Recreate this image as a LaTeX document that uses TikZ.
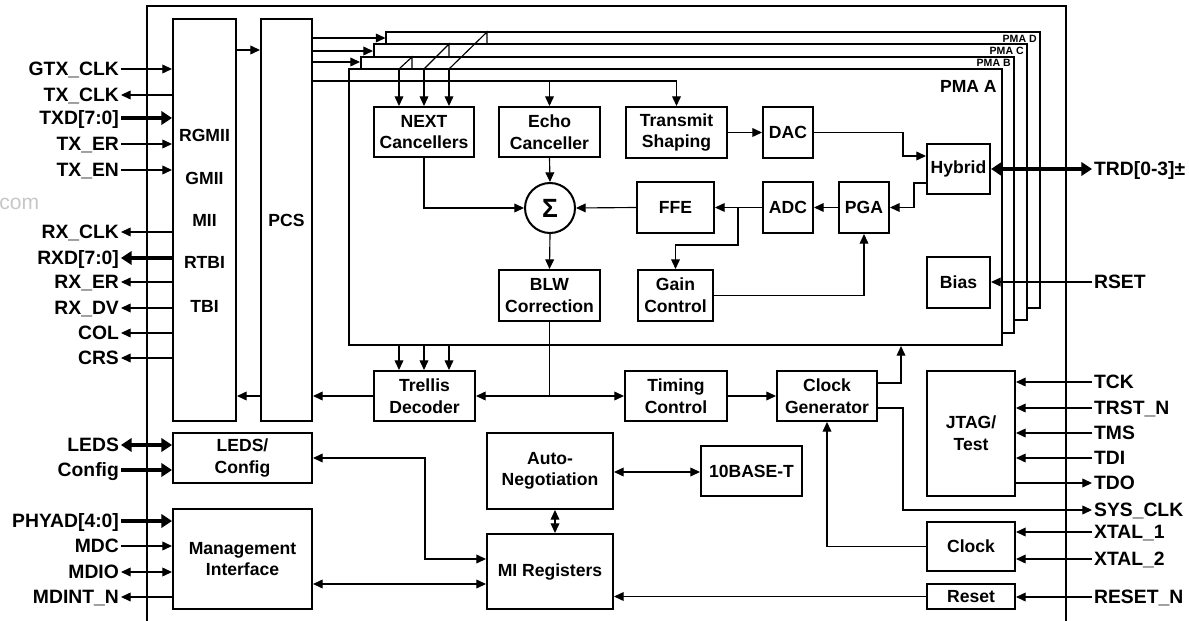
\documentclass[tikz,border=0pt]{standalone}
\usepackage{fontspec}
\setmainfont{Liberation Sans}
\usetikzlibrary{arrows.meta,calc}
\newcommand\bx[7][]{\node[box,#1, minimum width={(#5-#3)*0.02cm}, minimum height={(#6-#4)*0.02cm}] (#2) at ({(#3+#5)/2},{(#4+#6)/2}) {#7};}
\begin{document}
\begin{tikzpicture}[x=0.02cm,y=-0.02cm,
 box/.style={draw, line width=1.15pt, fill=white, font=\fontsize{10}{12.3}\selectfont\bfseries, align=center, inner sep=0pt},
 inl/.style={font=\fontsize{10}{12.3}\selectfont\bfseries, inner sep=0pt},
 ln/.style={line width=0.65pt},
 ar/.style={ln, -{Triangle[length=5.5pt,width=5pt]}},
 bar/.style={ln, {Triangle[length=5.5pt,width=5pt]}-{Triangle[length=5.5pt,width=5pt]}},
 bus/.style={line width=1.8pt, -{Triangle[length=6pt,width=7.5pt]}},
 bbus/.style={line width=1.8pt, {Triangle[length=6pt,width=7.5pt]}-{Triangle[length=6pt,width=7.5pt]}},
 lab/.style={font=\fontsize{11}{13}\selectfont\bfseries, text height=7.9pt, text depth=0pt, inner xsep=1pt, inner ysep=0pt},
 plab/.style={font=\fontsize{6}{7}\selectfont\bfseries, text height=4.3pt, text depth=0pt, inner sep=0pt, anchor=east},
]
\useasboundingbox (0,0) rectangle (1189,621);
\node[font=\fontsize{12}{12}\selectfont, text=black!22, anchor=base west, inner sep=0pt] (wm) at (-1,210) {com};
% outer frame
\draw[line width=0.9pt] (147,621) -- (147,6) -- (1066,6) -- (1066,621);
% left blocks
\bx{rgmii}{173}{19}{236}{421}{}
\bx{pcs}{261}{19}{312}{421}{PCS}
\node[inl] (tRGMII) at (204.5,135) {RGMII};
\node[inl] (tGMII) at (204.5,178) {GMII};
\node[inl] (tMII) at (204.5,220) {MII};
\node[inl] (tRTBI) at (204.5,262) {RTBI};
\node[inl] (tTBI) at (204.5,306) {TBI};
\bx{leds}{173}{433}{312}{483}{LEDS/\\Config}
\bx{mgmt}{173}{509}{312}{609}{Management\\Interface}
% PMA stack
\bx[line width=0.6pt]{pmad}{386}{32}{1040}{308}{}
\bx{pmac}{374}{44}{1027}{320}{}
\bx{pmab}{361}{57}{1014}{333}{}
\bx{pmaa}{349}{69}{1002}{345}{}
\node[plab] (lD) at (1037,39) {PMA D};
\node[plab] (lC) at (1024,51) {PMA C};
\node[plab] (lB) at (1011,63) {PMA B};
\node[inl, anchor=east, text height=7.2pt, text depth=0pt] (lA) at (997,86) {PMA A};
% PMA A contents
\bx{next}{374}{107}{474}{157}{NEXT\\Cancellers}
\bx{echo}{499}{107}{600}{157}{Echo\\Canceller}
\bx{tx}{626}{107}{727}{158}{Transmit\\Shaping}
\bx{dac}{763}{107}{813}{158}{DAC}
\bx{hyb}{927}{144}{990}{194}{Hybrid}
\bx{ffe}{637}{182}{714}{233}{FFE}
\bx{adc}{763}{182}{813}{233}{ADC}
\bx{pga}{839}{182}{889}{233}{PGA}
\node[circle, draw, line width=1.15pt, fill=white, minimum size=1cm, inner sep=0pt, font=\fontsize{15}{15}\selectfont\bfseries] (sig) at (550,208) {Σ};
\bx{blw}{499}{270}{600}{321}{BLW\\Correction}
\bx{gain}{638}{270}{713}{321}{Gain\\Control}
\bx{bias}{927}{257}{990}{308}{Bias}
% lower blocks
\bx{trel}{374}{371}{475}{421}{Trellis\\Decoder}
\bx{tim}{625}{371}{727}{421}{Timing\\Control}
\bx{cgen}{777}{371}{877}{421}{Clock\\Generator}
\bx{jtag}{927}{371}{1015}{496}{JTAG/\\Test}
\bx{clk}{927}{522}{1015}{571}{Clock}
\bx{rst}{927}{584}{1015}{609}{Reset}
\bx{auto}{487}{433}{613}{509}{Auto-\\Negotiation}
\bx{tenb}{701}{446}{802}{496}{10BASE-T}
\bx{mi}{487}{534}{613}{609}{MI Registers}
% left signals
\node[lab, anchor=east] (sGTX) at (121,69) {GTX\_CLK};
\node[lab, anchor=east] (sTXC) at (121,95) {TX\_CLK};
\node[lab, anchor=east] (sTXD) at (121,118) {TXD[7:0]};
\node[lab, anchor=east] (sTXER) at (121,144) {TX\_ER};
\node[lab, anchor=east] (sTXEN) at (121,170) {TX\_EN};
\node[lab, anchor=east] (sRXC) at (121,232) {RX\_CLK};
\node[lab, anchor=east] (sRXD) at (121,258) {RXD[7:0]};
\node[lab, anchor=east] (sRXER) at (121,282) {RX\_ER};
\node[lab, anchor=east] (sRXDV) at (121,308) {RX\_DV};
\node[lab, anchor=east] (sCOL) at (121,333) {COL};
\node[lab, anchor=east] (sCRS) at (121,358) {CRS};
\node[lab, anchor=east] (sLEDS) at (121,445) {LEDS};
\node[lab, anchor=east] (sCFG) at (121,470) {Config};
\node[lab, anchor=east] (sPHY) at (121,521) {PHYAD[4:0]};
\node[lab, anchor=east] (sMDC) at (121,546) {MDC};
\node[lab, anchor=east] (sMDIO) at (121,572) {MDIO};
\node[lab, anchor=east] (sINT) at (121,597) {MDINT\_N};
\draw[ar] (sGTX.east) -- (rgmii.west |- sGTX.east);
\draw[ar] (rgmii.west |- sTXC.east) -- (sTXC.east);
\draw[bus] (sTXD.east) -- (rgmii.west |- sTXD.east);
\draw[ar] (sTXER.east) -- (rgmii.west |- sTXER.east);
\draw[ar] (sTXEN.east) -- (rgmii.west |- sTXEN.east);
\draw[ar] (rgmii.west |- sRXC.east) -- (sRXC.east);
\draw[bus] (rgmii.west |- sRXD.east) -- (sRXD.east);
\draw[ar] (rgmii.west |- sRXER.east) -- (sRXER.east);
\draw[ar] (rgmii.west |- sRXDV.east) -- (sRXDV.east);
\draw[ar] (rgmii.west |- sCOL.east) -- (sCOL.east);
\draw[ar] (rgmii.west |- sCRS.east) -- (sCRS.east);
\draw[bbus] (sLEDS.east) -- (leds.west |- sLEDS.east);
\draw[bus] (sCFG.east) -- (leds.west |- sCFG.east);
\draw[bus] (sPHY.east) -- (mgmt.west |- sPHY.east);
\draw[ar] (sMDC.east) -- (mgmt.west |- sMDC.east);
\draw[bar] (sMDIO.east) -- (mgmt.west |- sMDIO.east);
\draw[ar] (mgmt.west |- sINT.east) -- (sINT.east);
% right signals
\node[lab, anchor=west] (sTRD) at (1092,169) {TRD[0-3]±};
\node[lab, anchor=west] (sRSET) at (1092,282) {RSET};
\node[lab, anchor=west] (sTCK) at (1092,382) {TCK};
\node[lab, anchor=west] (sTRST) at (1092,408) {TRST\_N};
\node[lab, anchor=west] (sTMS) at (1092,433) {TMS};
\node[lab, anchor=west] (sTDI) at (1092,458) {TDI};
\node[lab, anchor=west] (sTDO) at (1092,483) {TDO};
\node[lab, anchor=west] (sSYS) at (1092,510) {SYS\_CLK};
\node[lab, anchor=west] (sX1) at (1092,532) {XTAL\_1};
\node[lab, anchor=west] (sX2) at (1092,559) {XTAL\_2};
\node[lab, anchor=west] (sRST) at (1092,597) {RESET\_N};
\draw[bbus] (hyb.east) -- (sTRD.west |- hyb.east);
\draw[ar] (sRSET.west) -- (bias.east |- sRSET.west);
\draw[ar] (sTCK.west) -- (jtag.east |- sTCK.west);
\draw[ar] (sTRST.west) -- (jtag.east |- sTRST.west);
\draw[ar] (sTMS.west) -- (jtag.east |- sTMS.west);
\draw[ar] (sTDI.west) -- (jtag.east |- sTDI.west);
\draw[ar] (jtag.east |- sTDO.west) -- (sTDO.west);
\draw[ar] (sX1.west) -- (clk.east |- sX1.west);
\draw[ar] (sX2.west) -- (clk.east |- sX2.west);
\draw[ar] (sRST.west) -- (rst.east |- sRST.west);
% PCS links
\draw[ar] (rgmii.east |- 0,50) -- (pcs.west |- 0,50);
\draw[ar] (pcs.east |- 0,38) -- (pmad.west |- 0,38);
\draw[ar] (pcs.east |- 0,51) -- (pmac.west |- 0,51);
\draw[ar] (pcs.east |- 0,62) -- (pmab.west |- 0,62);
\draw[ar] (pcs.east |- 0,81) -| (tx.north);
\draw[ar] (echo.north |- 0,81) -- (echo.north);
% NEXT inputs from other PMAs
\coordinate (n1) at (399,69);
\coordinate (n2) at (424,69);
\coordinate (n3) at (449,69);
\draw[ln] (n1) -- (412,57) -- (412,69);
\draw[ln] (n2) -- (449,44) -- (449,57);
\draw[ln] (n3) -- (487,32) -- (487,44);
\draw[ar] (n1) -- (n1 |- next.north);
\draw[ar] (n2) -- (n2 |- next.north);
\draw[ar] (n3) -- (n3 |- next.north);
% PMA A internal
\draw[ar] (next.south) |- (sig.west);
\draw[ar] (echo.south) -- (sig.north);
\draw[ar] (ffe.west) -- (sig.east);
\draw[ar] (sig.south) -- (blw.north);
\draw[ar] (tx.east) -- (dac.west);
\draw[ar] (dac.east) -- ++(89,0) |- (hyb.west |- 0,156);
\draw[ar] (hyb.west |- 0,183) -- ++(-12,0) |- (pga.east);
\draw[ar] (pga.west) -- (adc.east);
\draw[ar] (adc.west) -- (ffe.east);
\coordinate (br) at (738,207.5);
\draw[ar] (br) -- (738,245) -| (gain.north);
\draw[ar] (gain.east) -| (pga.south);
% lower
\coordinate (t1) at (399,345);
\coordinate (t2) at (424,345);
\coordinate (t3) at (449,345);
\draw[ar] (t1) -- (t1 |- trel.north);
\draw[ar] (t2) -- (t2 |- trel.north);
\draw[ar] (t3) -- (t3 |- trel.north);
\coordinate (bj) at (blw.south |- trel.west);
\draw[ln] (blw.south) -- (bj);
\draw[ar] (bj) -- (trel.east);
\draw[ar] (bj) -- (tim.west);
\draw[ar] (trel.west) -- (pcs.east |- trel.west);
\draw[ar] (pcs.west |- trel.west) -- (rgmii.east |- trel.west);
\draw[ar] (tim.east) -- (cgen.west);
\draw[ar] (cgen.east |- 0,383) -| (pmaa.south -| 901,0);
\draw[ar] (cgen.east |- 0,408) -- ++(25,0) |- (sSYS.west);
\draw[ar] (clk.west) -| (cgen.south);
\draw[ar] (rst.west) -- (mi.east |- rst.west);
\draw[bar] (leds.east) -- ++(112,0) |- (mi.west |- 0,559);
\draw[bar] (mgmt.east |- 0,584) -- (mi.west |- 0,584);
\draw[bar] (auto.south -| 555,0) -- (mi.north -| 555,0);
\draw[bar] (auto.east |- 0,472) -- (tenb.west |- 0,472);
\end{tikzpicture}
\end{document}
